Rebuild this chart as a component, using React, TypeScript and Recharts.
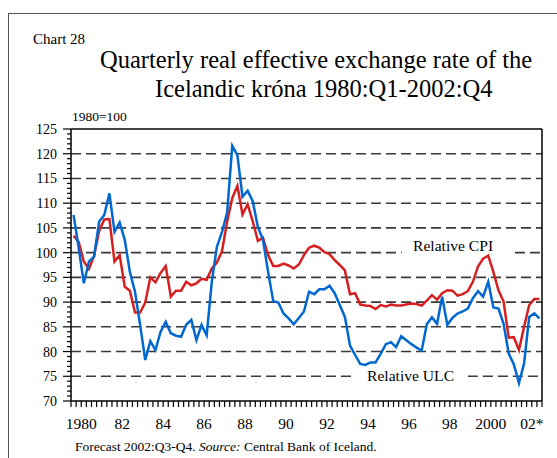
import { LineChart, Line, XAxis, YAxis, ReferenceLine } from "recharts";

// Quarterly, 1980:Q1 - 2002:Q4 (1980=100)
const firstYear = 1980;

const relativeUlc = [
  107.6, 101.0, 93.8, 98.2, 99.2, 106.3, 107.6, 112.0,
  104.2, 106.1, 102.6, 96.1, 92.1, 85.4, 78.3, 82.1,
  80.3, 84.0, 86.0, 83.7, 83.2, 83.0, 85.4, 86.4,
  82.3, 85.4, 83.3, 94.1, 101.2, 104.2, 108.1, 121.6,
  119.7, 111.3, 112.5, 110.4, 105.2, 102.6, 96.1, 90.2,
  89.9, 87.7, 86.7, 85.5, 86.8, 88.1, 92.1, 91.6,
  92.6, 92.6, 93.3, 91.8, 89.4, 87.0, 81.2, 79.3,
  77.5, 77.3, 77.8, 77.8, 79.6, 81.5, 81.9, 80.9,
  83.1, 82.3, 81.5, 80.8, 80.2, 85.5, 86.9, 85.6,
  91.1, 85.4, 86.8, 87.7, 88.1, 88.7, 90.8, 92.2,
  91.1, 94.1, 88.9, 88.7, 85.6, 79.6, 77.4, 73.6,
  77.6, 87.0, 87.7, 86.7,
];

const relativeCpi = [
  103.4, 102.2, 98.2, 96.7, 99.3, 104.4, 106.7, 106.8,
  98.2, 99.5, 93.1, 92.3, 87.9, 87.9, 89.9, 95.0,
  94.0, 95.9, 97.3, 91.1, 92.3, 92.3, 94.1, 93.4,
  93.8, 94.7, 94.5, 96.8, 98.0, 100.3, 106.3, 111.0,
  113.5, 107.7, 109.8, 106.3, 102.4, 103.0, 99.5, 97.3,
  97.3, 97.8, 97.4, 96.8, 97.6, 99.5, 101.0, 101.4,
  101.0, 100.1, 99.7, 98.5, 97.5, 96.4, 91.6, 91.8,
  89.5, 89.3, 89.2, 88.6, 89.4, 89.1, 89.5, 89.3,
  89.3, 89.5, 89.7, 89.6, 89.3, 90.3, 91.4, 90.5,
  91.8, 92.4, 92.3, 91.3, 91.6, 92.2, 94.1, 97.2,
  98.8, 99.4, 96.1, 92.4, 90.1, 82.8, 82.9, 80.3,
  85.0, 89.4, 90.6, 90.6,
];

const yearLabels = ["1980", "82", "84", "86", "88", "90", "92", "94", "96", "98", "2000", "02*"];
const yMajorTicks = [70, 75, 80, 85, 90, 95, 100, 105, 110, 115, 120, 125];
// 75 and 100 are drawn in two pieces, broken around the series labels
const gridLevels = [80, 85, 90, 95, 105, 110, 115, 120];

const data = relativeUlc.map((ulc, i) => ({
  t: firstYear + i / 4 + 0.125,
  ulc,
  cpi: relativeCpi[i],
}));

const xTicks: number[] = [];
for (let i = 0; i <= relativeUlc.length; i++) xTicks.push(firstYear + i / 4);
const yTicks: number[] = [];
for (let v = 70; v <= 125; v++) yTicks.push(v);

const FONT = '"Liberation Serif", "Times New Roman", serif';
const GRID = { stroke: "#3a3a3a", strokeWidth: 1.6, strokeDasharray: "10 5" };

function XTick(props: any) {
  const { x, y, payload } = props;
  const yr = payload.value - 0.5;
  const idx = (yr - firstYear) / 2;
  const label = Number.isInteger(idx) ? yearLabels[idx] : undefined;
  return (
    <g>
      <line x1={x} x2={x} y1={y} y2={y + 6} stroke="#000" strokeWidth={1.2} />
      {label && (
        <text x={x} y={y + 28} textAnchor="middle" fontSize={15.5} fontFamily={FONT} fill="#000">
          {label}
        </text>
      )}
    </g>
  );
}

function YTick(props: any) {
  const { x, y, payload } = props;
  const major = yMajorTicks.includes(payload.value);
  return (
    <g>
      <line x1={x - (major ? 8 : 4)} x2={x} y1={y} y2={y} stroke="#000" strokeWidth={1.2} />
      {major && (
        <text x={x - 14} y={y + 5} textAnchor="end" fontSize={14} fontFamily={FONT} fill="#000">
          {payload.value}
        </text>
      )}
    </g>
  );
}

export default function App() {
  return (
    <div
      style={{
        position: "fixed",
        left: 0,
        top: 0,
        width: 557,
        height: 458,
        background: "#fff",
        overflow: "hidden",
        fontFamily: FONT,
      }}
    >
      <div
        style={{
          position: "absolute",
          left: 8,
          top: 13,
          width: 549,
          height: 445,
          borderTop: "1px solid #555",
          borderLeft: "1px solid #555",
          boxSizing: "border-box",
        }}
      />
      <div style={{ position: "absolute", left: 0, top: 0 }}>
        <LineChart
          width={557}
          height={458}
          data={data}
          margin={{ top: 129, right: 15, bottom: 27, left: 31 }}
        >
          <XAxis
            dataKey="t"
            type="number"
            domain={[1980, 2003]}
            ticks={xTicks}
            interval={0}
            height={30}
            tickSize={0}
            tickMargin={0}
            tickLine={false}
            tick={<XTick />}
            axisLine={{ stroke: "#000", strokeWidth: 1.5 }}
          />
          <YAxis
            type="number"
            domain={[70, 125]}
            ticks={yTicks}
            interval={0}
            width={40}
            tickSize={0}
            tickMargin={0}
            tickLine={false}
            tick={<YTick />}
            axisLine={{ stroke: "#000", strokeWidth: 1.5 }}
          />
          {gridLevels.map((v) => (
            <ReferenceLine key={v} y={v} {...GRID} />
          ))}
          <ReferenceLine segment={[{ x: 1980, y: 100 }, { x: 1996.15, y: 100 }]} {...GRID} />
          <ReferenceLine segment={[{ x: 2001.68, y: 100 }, { x: 2003, y: 100 }]} {...GRID} />
          <ReferenceLine segment={[{ x: 1980, y: 75 }, { x: 1993.87, y: 75 }]} {...GRID} />
          <ReferenceLine segment={[{ x: 1999.38, y: 75 }, { x: 2003, y: 75 }]} {...GRID} />
          <ReferenceLine y={125} stroke="#000" strokeWidth={1.5} />
          <ReferenceLine x={2003} stroke="#000" strokeWidth={1.5} />
          <Line
            dataKey="cpi"
            type="linear"
            stroke="#d62020"
            strokeWidth={2.5}
            dot={false}
            isAnimationActive={false}
          />
          <Line
            dataKey="ulc"
            type="linear"
            stroke="#0068d0"
            strokeWidth={2.5}
            dot={false}
            isAnimationActive={false}
          />
        </LineChart>
      </div>
      <svg
        width={557}
        height={458}
        style={{ position: "absolute", left: 0, top: 0, pointerEvents: "none" }}
        fontFamily={FONT}
        fill="#000"
      >
        <text x={33} y={44} fontSize={15}>Chart 28</text>
        <text x={100} y={68} fontSize={24.5}>Quarterly real effective exchange rate of the</text>
        <text x={155} y={97} fontSize={24.5}>Icelandic króna 1980:Q1-2002:Q4</text>
        <text x={72} y={121} fontSize={13.5}>1980=100</text>
        <text x={413} y={251} fontSize={15.6}>Relative CPI</text>
        <text x={367} y={381} fontSize={15.6}>Relative ULC</text>
        <text x={75} y={451} fontSize={13.5}>
          Forecast 2002:Q3-Q4. <tspan fontStyle="italic">Source:</tspan> Central Bank of Iceland.
        </text>
      </svg>
    </div>
  );
}
